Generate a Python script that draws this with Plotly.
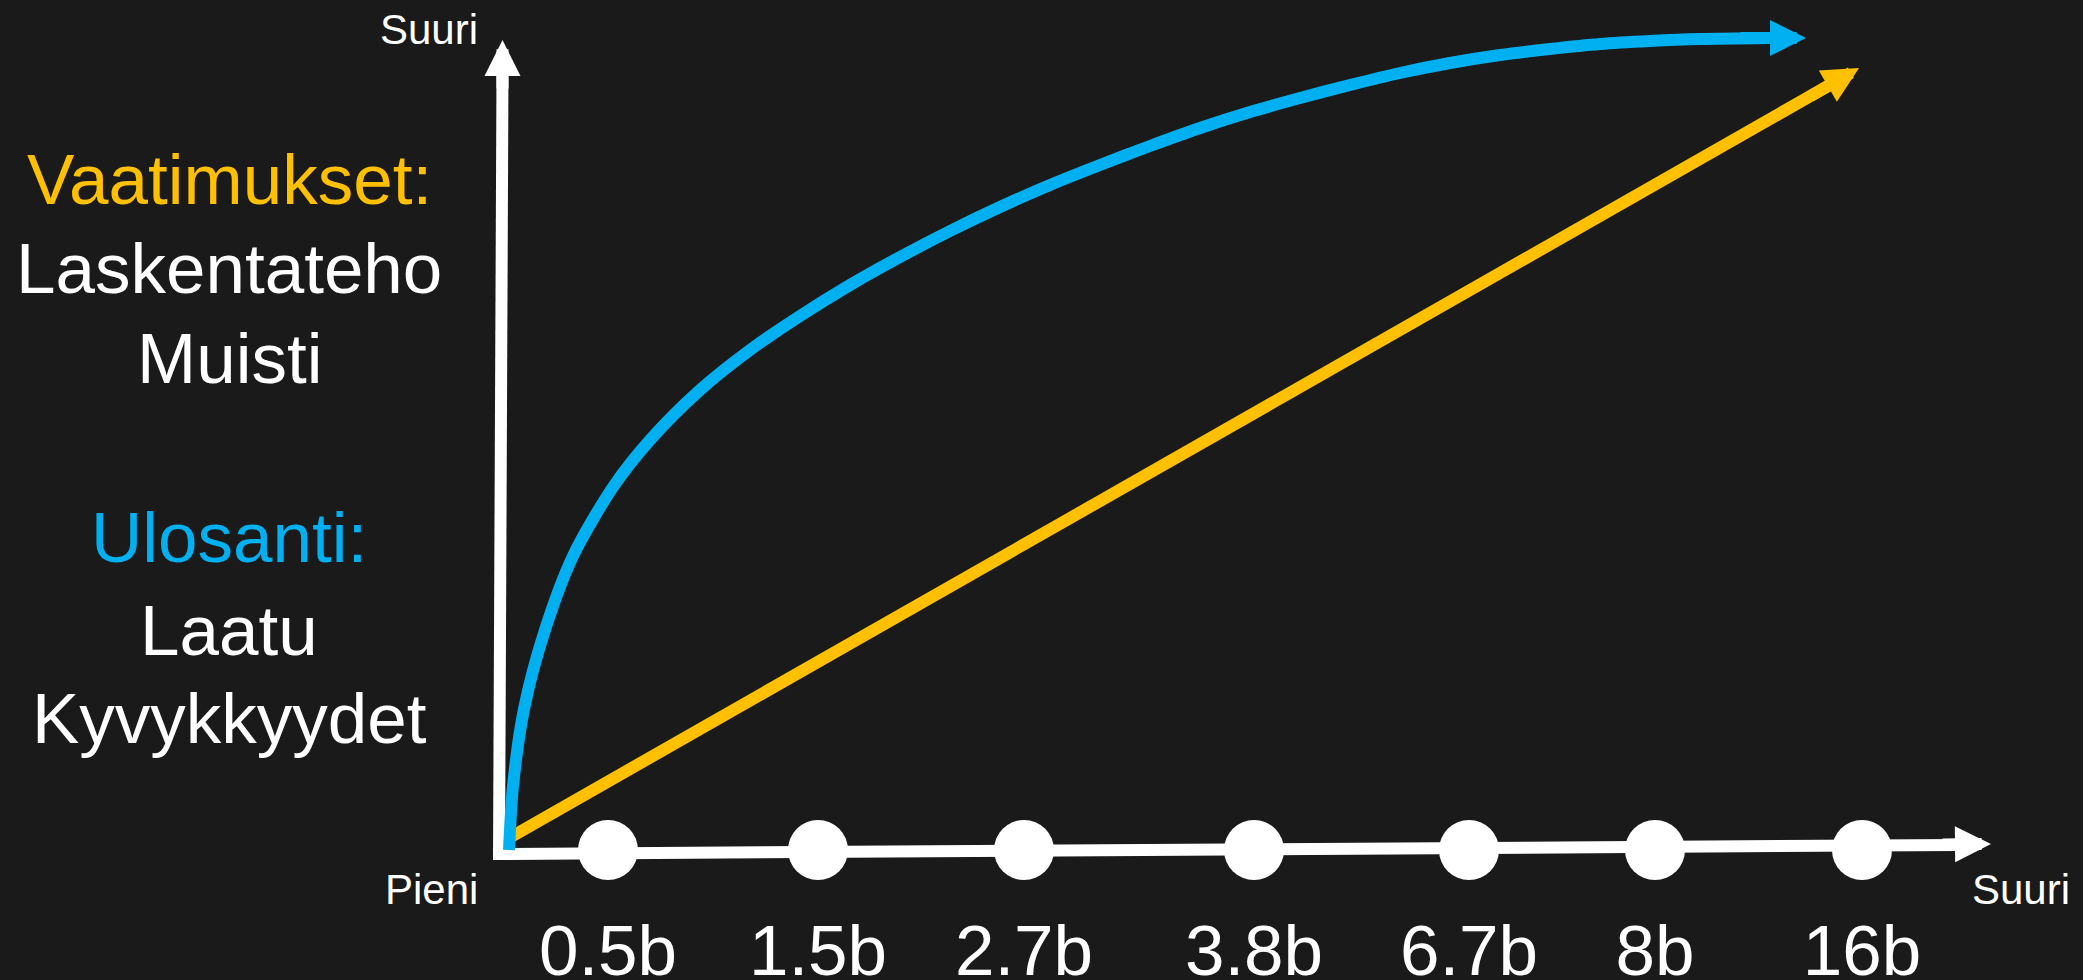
import plotly.graph_objects as go

# Coordinate system: origin at the corner of the two axes, 1 unit = 1 px
# x grows to the right, y grows upward.
X_RANGE = [-499, 1584]
Y_RANGE = [-126, 854]

BG = "#1a1a1a"
WHITE = "#ffffff"
BLUE = "#00B0F0"
YELLOW = "#FFC000"
FONT = "Liberation Sans"

# Model sizes along the horizontal axis
model_sizes = ["0.5b", "1.5b", "2.7b", "3.8b", "6.7b", "8b", "16b"]
size_pos = [109, 319, 525, 755, 970, 1156, 1363]
DOT_Y = 4
LABEL_Y = -103

# Requirements (compute, memory): grows linearly
req_x = [10, 1329]
req_y = [16, 768]
req_tip = (1360, 786)

# Output (quality, capabilities): rises fast, then flattens
out_x = [10, 14, 25, 45, 74, 114, 151, 201, 251, 301, 351, 401, 451, 501, 551,
         601, 651, 701, 751, 801, 851, 901, 951, 1001, 1051, 1101, 1151, 1201, 1270]
out_y = [4, 68, 145, 221, 298, 367, 414, 464, 504, 538, 569, 597, 623, 647, 669,
         689, 708, 726, 742, 756, 769, 781, 791, 799, 805, 810, 813, 815, 816]
out_tip = (1307, 816)

# Axis lines: vertical then horizontal (segments separated by None)
axis_x = [3.5, 0, None, -6, 1459]
axis_y = [785, -6, None, 0, 9]
y_axis_tip = (3.5, 814)
x_axis_tip = (1492, 10)

# Left-hand legend text block
legend_lines = ["Vaatimukset:", "Laskentateho", "Muisti", "Ulosanti:", "Laatu", "Kyvykkyydet"]
legend_colors = [YELLOW, WHITE, WHITE, BLUE, WHITE, WHITE]
legend_y = [675, 586, 496, 317, 224, 136]
LEGEND_X = -270

fig = go.Figure()

fig.add_trace(go.Scatter(
    x=axis_x, y=axis_y, mode="lines",
    line=dict(color=WHITE, width=12), hoverinfo="skip",
))

fig.add_trace(go.Scatter(
    x=req_x, y=req_y, mode="lines",
    line=dict(color=YELLOW, width=12), hoverinfo="skip",
))

fig.add_trace(go.Scatter(
    x=out_x, y=out_y, mode="lines",
    line=dict(color=BLUE, width=12, shape="spline", smoothing=0.8, simplify=False),
    hoverinfo="skip",
))

fig.add_trace(go.Scatter(
    x=size_pos, y=[DOT_Y for _ in size_pos], mode="markers",
    marker=dict(size=60, color=WHITE, line=dict(width=0)), hoverinfo="skip",
))

fig.add_trace(go.Scatter(
    x=size_pos, y=[LABEL_Y for _ in size_pos], mode="text",
    text=model_sizes, textposition="middle center",
    textfont=dict(family=FONT, size=71, color=WHITE), hoverinfo="skip",
))


def arrow_head(tip, tail, color):
    fig.add_annotation(
        x=tip[0], y=tip[1], ax=tail[0], ay=tail[1],
        xref="x", yref="y", axref="x", ayref="y",
        text="", showarrow=True, arrowhead=2, arrowsize=0.6,
        arrowwidth=12, arrowcolor=color, standoff=0, startstandoff=0,
    )


arrow_head(y_axis_tip, (y_axis_tip[0], y_axis_tip[1] - 50), WHITE)
arrow_head(x_axis_tip, (x_axis_tip[0] - 50, x_axis_tip[1] - 0.5), WHITE)
arrow_head(req_tip, (req_x[-1] - 19, req_y[-1] - 11), YELLOW)
arrow_head(out_tip, (out_x[-1] - 30, out_y[-1]), BLUE)

# Axis end labels
for label, lx, ly in [("Suuri", -70, 825), ("Pieni", -68, -35), ("Suuri", 1522, -35)]:
    fig.add_annotation(
        x=lx, y=ly, xref="x", yref="y", text=label, showarrow=False,
        xanchor="center", yanchor="middle",
        font=dict(family=FONT, size=42, color=WHITE),
    )

for line, color, ly in zip(legend_lines, legend_colors, legend_y):
    fig.add_annotation(
        x=LEGEND_X, y=ly, xref="x", yref="y", text=line, showarrow=False,
        xanchor="center", yanchor="middle",
        font=dict(family=FONT, size=71, color=color),
    )

fig.update_layout(
    width=2083, height=980,
    margin=dict(l=0, r=0, t=0, b=0),
    paper_bgcolor=BG, plot_bgcolor=BG,
    showlegend=False,
    xaxis=dict(range=X_RANGE, visible=False, fixedrange=True),
    yaxis=dict(range=Y_RANGE, visible=False, fixedrange=True),
)

fig.write_html("out.html", config={"displayModeBar": False})
